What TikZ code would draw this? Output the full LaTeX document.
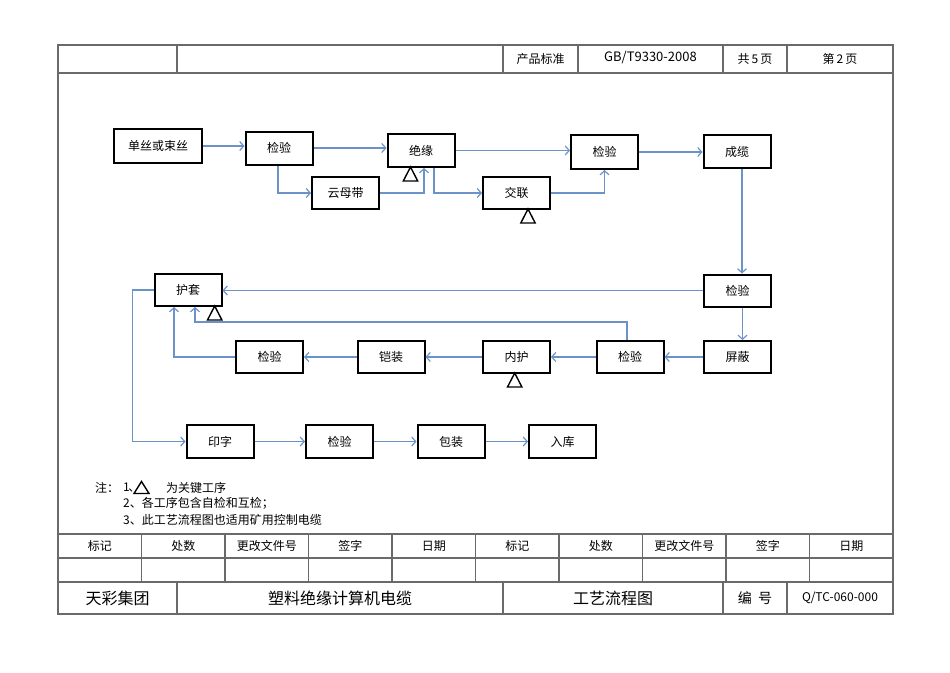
\documentclass[tikz,border=0pt]{standalone}
\usepackage{fontspec}
\setmainfont{Noto Sans CJK SC}
\usetikzlibrary{arrows.meta}
\definecolor{cflow}{HTML}{6B93C8}
\definecolor{cframe}{HTML}{6A6A6A}
\tikzset{
  every picture/.style={font=\fontsize{12}{14}\selectfont},
  stepbox/.style={draw=black, line width=2pt, minimum width=67pt, minimum height=33pt, inner sep=0pt},
  flow/.style={-{Straight Barb[length=4pt, width=9pt]}, draw=cflow, line width=1.2pt},
  frame/.style={draw=cframe, line width=1.3pt},
  cell/.style={inner sep=0pt},
  titlecell/.style={inner sep=0pt, font=\fontsize{16}{18}\selectfont},
  keyline/.style={draw=black, line width=1.4pt},
}
% key-process mark: apex at (#1,#2), hangs below
\newcommand\keytri[2]{\draw[keyline] (#1,#2) -- ++(-7.2,14) -- ++(14.4,0) -- cycle;}

\begin{document}
\begin{tikzpicture}[x=1pt, y=-1pt]
  \useasboundingbox (0,0) rectangle (950,672);
  % sheet frame and header row
  \draw[frame] (58,45) rectangle (893,614);
  \draw[frame] (58,73) -- (893,73);
  \foreach \x in {177,503,578,723,787} \draw[frame] (\x,45) -- (\x,73);
  \node[cell] (hstd) at (540.5,59) {产品标准};
  \node[cell, font=\fontsize{13}{15}\selectfont] (hcode) at (650.5,58) {GB/T9330-2008};
  \node[cell] (htotal) at (755,59) {共\,5\,页};
  \node[cell] (hpage) at (840,59) {第\,2\,页};

  % process steps
  \node[stepbox, minimum width=88pt, minimum height=34pt] (wire) at (158,146) {单丝或束丝};
  \node[stepbox] (chkA) at (279,148) {检验};
  \node[stepbox] (insul) at (421,150.5) {绝缘};
  \node[stepbox, minimum height=32pt] (mica) at (345.5,193) {云母带};
  \node[stepbox, minimum height=32pt] (xlink) at (516.5,193) {交联};
  \node[stepbox, minimum height=34pt] (chkB) at (604.5,152) {检验};
  \node[stepbox] (cable) at (737,151.5) {成缆};
  \node[stepbox, minimum height=32pt] (chkC) at (737.5,290.5) {检验};
  \node[stepbox, minimum height=32pt] (sheath) at (188,290) {护套};
  \node[stepbox, minimum height=32pt] (shield) at (737.5,357) {屏蔽};
  \node[stepbox, minimum height=32pt] (chkD) at (630,357) {检验};
  \node[stepbox, minimum height=32pt] (inner) at (516.5,357) {内护};
  \node[stepbox, minimum height=32pt] (armour) at (391,357) {铠装};
  \node[stepbox, minimum height=32pt] (chkE) at (269.5,357) {检验};
  \node[stepbox] (print) at (220,441.5) {印字};
  \node[stepbox] (chkF) at (339.5,441.5) {检验};
  \node[stepbox] (pack) at (451,441.5) {包装};
  \node[stepbox] (store) at (562.5,441.5) {入库};

  % key processes
  \keytri{410.5}{167}
  \keytri{528}{209}
  \keytri{214.7}{306}
  \keytri{514.7}{373}

  % flow
  \draw[flow] (wire.east) -- (wire.east -| chkA.west);
  \draw[flow] (chkA.east) -- (chkA.east -| insul.west);
  \draw[flow] ([xshift=-1pt]chkA.south) |- (mica.west);
  \draw[flow] (mica.east) -| ([xshift=3pt]insul.south);
  \draw[flow] ([xshift=13pt]insul.south) |- (xlink.west);
  \draw[flow] (insul.east) -- (insul.east -| chkB.west);
  \draw[flow] (xlink.east) -| (chkB.south);
  \draw[flow] (chkB.east) -- (chkB.east -| cable.west);
  \draw[flow] ([xshift=5pt]cable.south) -- ([xshift=5pt]cable.south |- chkC.north);
  \draw[flow] (chkC.west) -- (chkC.west -| sheath.east);
  \draw[flow] ([xshift=5pt]chkC.south) -- ([xshift=5pt]chkC.south |- shield.north);
  \draw[flow] (shield.west) -- (chkD.east);
  \draw[flow] (chkD.west) -- (inner.east);
  \draw[flow] (inner.west) -- (armour.east);
  \draw[flow] (armour.west) -- (chkE.east);
  \draw[flow] (chkE.west) -| ([xshift=-14pt]sheath.south);
  \coordinate (loopbend) at (195,322);
  \draw[flow] ([xshift=-3pt]chkD.north) |- (loopbend) -- (loopbend |- sheath.south);
  \draw[flow] (sheath.west) -- ++(-21,0) |- (print.west);
  \draw[flow] (print.east) -- (chkF.west);
  \draw[flow] (chkF.east) -- (pack.west);
  \draw[flow] (pack.east) -- (store.west);

  % notes
  \node[cell, anchor=west] (notehead) at (95,488) {注：};
  \node[cell, anchor=west] (noteA) at (123,488) {1\kern-1.5pt\rlap{、}};
  \draw[keyline] (141.5,481.5) -- ++(-7.5,12) -- ++(15,0) -- cycle;
  \node[cell, anchor=west] (noteAtext) at (166,488) {为关键工序};
  \node[cell, anchor=west] (noteB) at (123,503.5) {2、各工序包含自检和互检；};
  \node[cell, anchor=west] (noteC) at (123,519.5) {3、此工艺流程图也适用矿用控制电缆};

  % revision table and title block
  \foreach \y in {534,558,582} \draw[frame] (58,\y) -- (893,\y);
  \foreach \k in {1,...,9} \draw[frame] ({58+83.5*\k},534) -- ({58+83.5*\k},582);
  \foreach \l [count=\i from 0] in {标记,处数,更改文件号,签字,日期,标记,处数,更改文件号,签字,日期}
    \node[cell] (rev\i) at ({99.75+83.5*\i},546) {\l};
  \foreach \x in {177,503,723,787} \draw[frame] (\x,582) -- (\x,614);
  \node[titlecell] (tcorp) at (117.5,598) {天彩集团};
  \node[titlecell] (tprod) at (340,598) {塑料绝缘计算机电缆};
  \node[titlecell] (tdoc) at (613,598) {工艺流程图};
  \node[cell, font=\fontsize{14}{16}\selectfont] (tnolab) at (755,598) {编\ \ 号};
  \node[cell] (tno) at (840,598) {Q/TC-060-000};
\end{tikzpicture}
\end{document}
